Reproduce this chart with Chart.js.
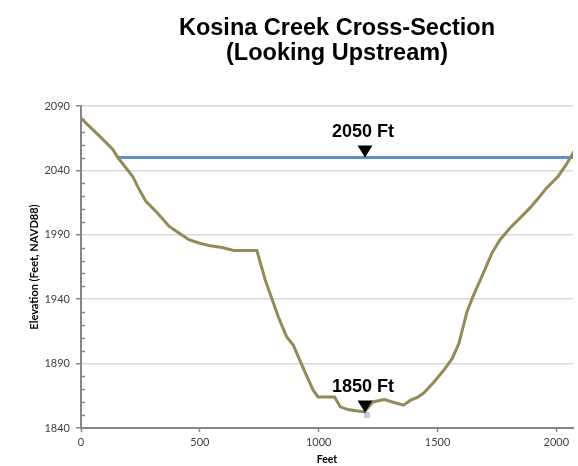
<!DOCTYPE html>
<html>
<head>
<meta charset="utf-8">
<script src="https://cdn.jsdelivr.net/npm/chart.js@4"></script>
<style>
html,body{margin:0;padding:0;background:#fff;}
#wrap{width:578px;height:466px;}
</style>
</head>
<body>
<div id="wrap"><canvas id="c" width="578" height="466"></canvas></div>
<script>
// Data
const stations = [0,78,134,155,217,245,273,315,371,412,454,496,538,593,642,740,775,830,865,893,942,977,997,1067,1091,1123,1193,1227,1276,1332,1357,1387,1415,1443,1485,1527,1562,1590,1624,1652,1690,1729,1763,1805,1854,1889,1931,1959,2008,2042,2075];
const elevations = [2080.5,2066.6,2056.3,2050,2035.5,2025.1,2016,2008.2,1996.5,1991.4,1986.2,1983.6,1981.7,1980.2,1977.9,1977.9,1955,1926.4,1910.9,1904.4,1883.6,1869.4,1864.1,1864.1,1856.4,1854.3,1852.5,1860.2,1862.1,1859,1857.7,1861.6,1863.7,1867.3,1875.8,1885,1894,1905.7,1930.3,1943.3,1959,1975.8,1986.2,1995.3,2004.3,2010.9,2019.9,2026.4,2035.5,2044.6,2055];
const waterStations = [155, 2070];
const waterElevations = [2050, 2050];
const lowPointStation = [1203];
const lowPointElevation = [1850];
const markerStations = [1195, 1195];
const markerElevations = [2050, 1852];
const markerLabels = ['2050 Ft', '1850 Ft'];
const titleLines = ['Kosina Creek Cross-Section', '(Looking Upstream)'];
const xTickValues = [0, 500, 1000, 1500, 2000];
const yMajorStep = 50;
const yMinorStep = 10;
const xMin = 0, xMax = 2070, yMin = 1840, yMax = 2090;

const toPts = (xs, ys) => xs.map((x, i) => ({x, y: ys[i]}));

const AXIS = '#868686';
const GRID = '#d9d9d9';
const TXT = '#404040';

const overlay = {
  id: 'overlay',
  afterDraw(chart) {
    const ctx = chart.ctx;
    const xs = chart.scales.x, ys = chart.scales.y;
    ctx.save();
    // minor ticks on y axis (inside)
    ctx.strokeStyle = AXIS;
    ctx.lineWidth = 1.5;
    for (let v = yMin; v <= yMax; v += yMinorStep) {
      if ((v - yMin) % yMajorStep === 0) continue;
      const py = Math.round(ys.getPixelForValue(v)) + 0.5;
      ctx.beginPath();
      ctx.moveTo(xs.left, py);
      ctx.lineTo(xs.left + 4, py);
      ctx.stroke();
    }
    // markers + labels
    ctx.fillStyle = '#000';
    ctx.font = 'bold 18px "Liberation Sans", Arial, sans-serif';
    ctx.textAlign = 'center';
    ctx.textBaseline = 'alphabetic';
    markerStations.forEach((s, i) => {
      const px = xs.getPixelForValue(s);
      const py = ys.getPixelForValue(markerElevations[i]);
      ctx.beginPath();
      ctx.moveTo(px, py);
      ctx.lineTo(px - 7.5, py - 12);
      ctx.lineTo(px + 7.5, py - 12);
      ctx.closePath();
      ctx.fill();
      ctx.fillText(markerLabels[i], px - 2, py - 21);
    });
    // title
    ctx.font = 'bold 23.5px "Liberation Sans", Arial, sans-serif';
    ctx.fillText(titleLines[0], 337, 35);
    ctx.fillText(titleLines[1], 337, 60);
    ctx.restore();
  }
};

const yTickValues = [];
for (let v = yMin; v <= yMax; v += yMinorStep) yTickValues.push(v);

new Chart(document.getElementById('c'), {
  type: 'scatter',
  data: {
    datasets: [
      {
        label: 'Water Surface',
        data: toPts(waterStations, waterElevations),
        showLine: true,
        borderColor: '#5b8fd6',
        borderWidth: 3,
        pointRadius: 0,
        order: 2
      },
      {
        label: 'Low Point',
        data: toPts(lowPointStation, lowPointElevation),
        pointStyle: 'rect',
        pointRadius: 3.5,
        backgroundColor: '#b9cde5',
        borderColor: '#b9cde5',
        order: 3
      },
      {
        label: 'Ground',
        data: toPts(stations, elevations),
        showLine: true,
        borderColor: '#948a54',
        borderWidth: 3,
        pointRadius: 0,
        tension: 0,
        order: 1
      }
    ]
  },
  options: {
    responsive: false,
    animation: false,
    events: [],
    layout: { padding: { top: 106, left: 0, right: 1, bottom: 0 } },
    plugins: { legend: { display: false }, title: { display: false }, tooltip: { enabled: false } },
    scales: {
      x: {
        type: 'linear',
        min: xMin, max: xMax,
        afterBuildTicks(s) { s.ticks = xTickValues.map(v => ({value: v})); },
        afterFit(s) { s.height = 38; },
        border: { color: AXIS, width: 2 },
        grid: {
          drawOnChartArea: false,
          drawTicks: true,
          tickLength: 4,
          tickColor: AXIS,
          tickWidth: 1.5
        },
        ticks: {
          autoSkip: false,
          maxRotation: 0,
          padding: 4,
          color: TXT,
          font: { family: 'Lato, "Liberation Sans", sans-serif', size: 11 },
          callback: (v) => String(v)
        },
        title: {
          display: true,
          text: 'Feet',
          color: '#000',
          font: { family: 'Lato, "Liberation Sans", sans-serif', size: 10.5, weight: 'bold' },
          padding: { top: 0, bottom: 0 }
        }
      },
      y: {
        type: 'linear',
        min: yMin, max: yMax,
        afterBuildTicks(s) { s.ticks = yTickValues.map(v => ({value: v})); },
        afterFit(s) { s.width = 81; },
        border: { color: AXIS, width: 2 },
        grid: {
          color: (c) => (c.tick && (c.tick.value - yMin) % yMajorStep === 0) ? GRID : 'rgba(0,0,0,0)',
          lineWidth: 1.5,
          tickLength: 5,
          tickColor: (c) => (c.tick && (c.tick.value - yMin) % yMajorStep === 0) ? AXIS : 'rgba(0,0,0,0)',
          tickWidth: 1.5
        },
        ticks: {
          autoSkip: false,
          padding: 6,
          color: TXT,
          font: { family: 'Lato, "Liberation Sans", sans-serif', size: 11 },
          callback: (v) => (v - yMin) % yMajorStep === 0 ? String(v) : ''
        },
        title: {
          display: true,
          text: 'Elevation (Feet, NAVD88)',
          color: '#000',
          font: { family: 'Lato, "Liberation Sans", sans-serif', size: 11, weight: 'bold' },
          padding: { top: 28, bottom: 0 }
        }
      }
    }
  },
  plugins: [overlay]
});
</script>
</body>
</html>
